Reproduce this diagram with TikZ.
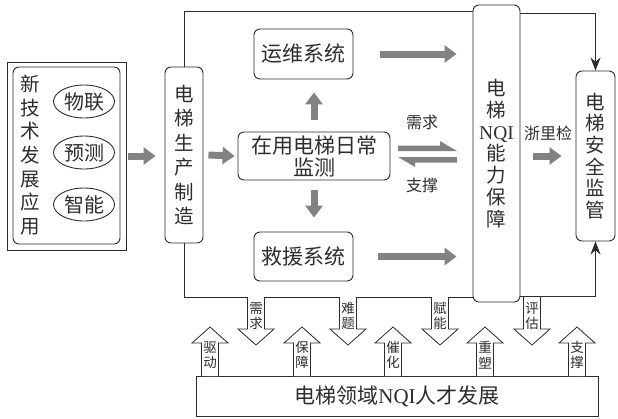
\documentclass[tikz,border=0pt]{standalone}
\usepackage{fontspec}
\setmainfont{Noto Sans CJK SC}
\newfontfamily\lat{Liberation Serif}
\usetikzlibrary{arrows.meta,shapes.geometric}
\definecolor{ln}{RGB}{45,45,45}
\definecolor{ag}{RGB}{130,130,130}
\tikzset{
  boxs/.style={draw=ln, line width=0.9pt, rounded corners=6pt, inner sep=0pt, align=center, text=ln},
  vtext/.style={font=\fontsize{19}{23}\selectfont},
  htext/.style={font=\fontsize{21}{23}\selectfont},
  fat/.style={draw=ag, line width=7pt, -{Triangle[length=12pt,width=17pt]}},
  lab/.style={inner sep=0pt, align=center, text=ln, font=\fontsize{13.5}{15.5}\selectfont},
  mlab/.style={inner sep=0pt, text=ln, font=\fontsize{16}{18}\selectfont},
  hol/.style={draw=ln, fill=white, line width=0.8pt},
  fr/.style={draw=ln, line width=0.9pt}
}
\newcommand\hdn[3]{%
  \draw[hol] (#1-8.5,297) -- (#1-8.5,329) -- (#1-18,329) -- (#1,345) -- (#1+18,329) -- (#1+8.5,329) -- (#1+8.5,297);
  \node[lab] (#2) at (#1,316) {#3};}
\newcommand\hup[3]{%
  \draw[hol] (#1-8.5,376) -- (#1-8.5,343) -- (#1-18,343) -- (#1,327) -- (#1+18,343) -- (#1+8.5,343) -- (#1+8.5,376);
  \node[lab] (#2) at (#1,355) {#3};}
\begin{document}
\begin{tikzpicture}[x=1pt,y=-1pt]
\useasboundingbox[fill=white] (0,0) rectangle (618,418);

% left group
\node[draw=ln, line width=0.9pt, minimum width=119pt, minimum height=188pt, inner sep=0pt] (lo) at (66.5,156) {};
\node[boxs, minimum width=107pt, minimum height=177pt] (li) at (66.5,155.5) {};
\node[inner sep=0pt, align=center, text=ln, font=\fontsize{19.5}{23.7}\selectfont] (newtech) at (30,155) {新\\技\\术\\发\\展\\应\\用};
\node[ellipse, draw=ln, line width=0.9pt, minimum width=61pt, minimum height=33pt, inner sep=0pt, text=ln, font=\fontsize{20}{21}\selectfont] (e1) at (84,101.5) {物联};
\node[ellipse, draw=ln, line width=0.9pt, minimum width=61pt, minimum height=33pt, inner sep=0pt, text=ln, font=\fontsize{20}{21}\selectfont] (e2) at (84,152.5) {预测};
\node[ellipse, draw=ln, line width=0.9pt, minimum width=61pt, minimum height=33pt, inner sep=0pt, text=ln, font=\fontsize{20}{21}\selectfont] (e3) at (84,204.5) {智能};

% main boxes
\node[boxs, font=\fontsize{19.5}{24.4}\selectfont, minimum width=38pt, minimum height=176pt] (mfg) at (184,155) {电\\梯\\生\\产\\制\\造};
\node[boxs, htext, minimum width=99pt, minimum height=50pt] (yw) at (303.5,54) {运维系统};
\node[boxs, font=\fontsize{21}{22}\selectfont, minimum width=152pt, minimum height=48pt] (mon) at (314,156) {在用电梯日常\\监测};
\node[boxs, htext, minimum width=99pt, minimum height=49pt] (jy) at (303.5,256.5) {救援系统};
\node[boxs, font=\fontsize{19.5}{21.7}\selectfont, minimum width=47pt, minimum height=297pt] (nqi) at (496.5,153.5) {电\\梯\\{\lat NQI}\\能\\力\\保\\障};
\node[boxs, font=\fontsize{19.5}{21.6}\selectfont, minimum width=39pt, minimum height=170pt] (safe) at (595.5,156) {电\\梯\\安\\全\\监\\管};
\node[draw=ln, line width=0.9pt, minimum width=402pt, minimum height=40pt, inner sep=0pt, text=ln, htext] (talent) at (397,396) {电梯领域{\lat NQI}人才发展};

% frame lines
\coordinate (ftl) at (183,11);
\coordinate (fbl) at (183,297);
\coordinate (frt) at (0,13);
\coordinate (frb) at (0,296);
\draw[fr] (mfg.north) |- (nqi.west |- ftl);
\draw[fr] (mfg.south) |- (nqi.west |- fbl);
\draw[fr, -{Stealth[length=13pt,width=10pt]}] (nqi.east |- frt) -| (safe.north);
\draw[fr, -{Stealth[length=13pt,width=10pt]}] (nqi.east |- frb) -| (safe.south);

% fat arrows
\draw[fat] ([xshift=2pt]lo.east) -- ([xshift=-9pt]mfg.west |- lo.east);
\draw[fat] ([xshift=5pt]mfg.east) -- ([xshift=-3pt]mon.west);
\draw[fat] ([yshift=12pt]mon.north) -- ([yshift=-13pt]yw.south -| mon.north);
\draw[fat] ([yshift=-10pt]mon.south) -- ([yshift=14pt]jy.north -| mon.south);
\draw[fat] ([xshift=27pt]yw.east) -- ([xshift=-16pt]nqi.west |- yw.east);
\draw[fat] ([xshift=25pt]jy.east) -- ([xshift=-16pt]nqi.west |- jy.east);
\draw[fat] ([xshift=13pt]nqi.east |- safe.west) -- ([xshift=-14pt]safe.west);

% harpoons
\fill[ag] (398,145.5) -- (440,145.5) -- (440,141) -- (457,151) -- (398,151) -- cycle;
\fill[ag] (398,157) -- (457,157) -- (457,162.5) -- (415,162.5) -- (415,167) -- cycle;
\node[mlab] (xq) at (422,122) {需求};
\node[mlab] (zc) at (422,185) {支撑};
\node[mlab] (zlj) at (548,133) {浙里检};

% hollow arrows
\hdn{256}{a1}{需\\求}
\hdn{348}{a2}{难\\题}
\hdn{440}{a3}{赋\\能}
\hdn{532}{a4}{评\\估}
\hup{210}{b1}{驱\\动}
\hup{302}{b2}{保\\障}
\hup{393}{b3}{催\\化}
\hup{485}{b4}{重\\塑}
\hup{577}{b5}{支\\撑}
\end{tikzpicture}
\end{document}
